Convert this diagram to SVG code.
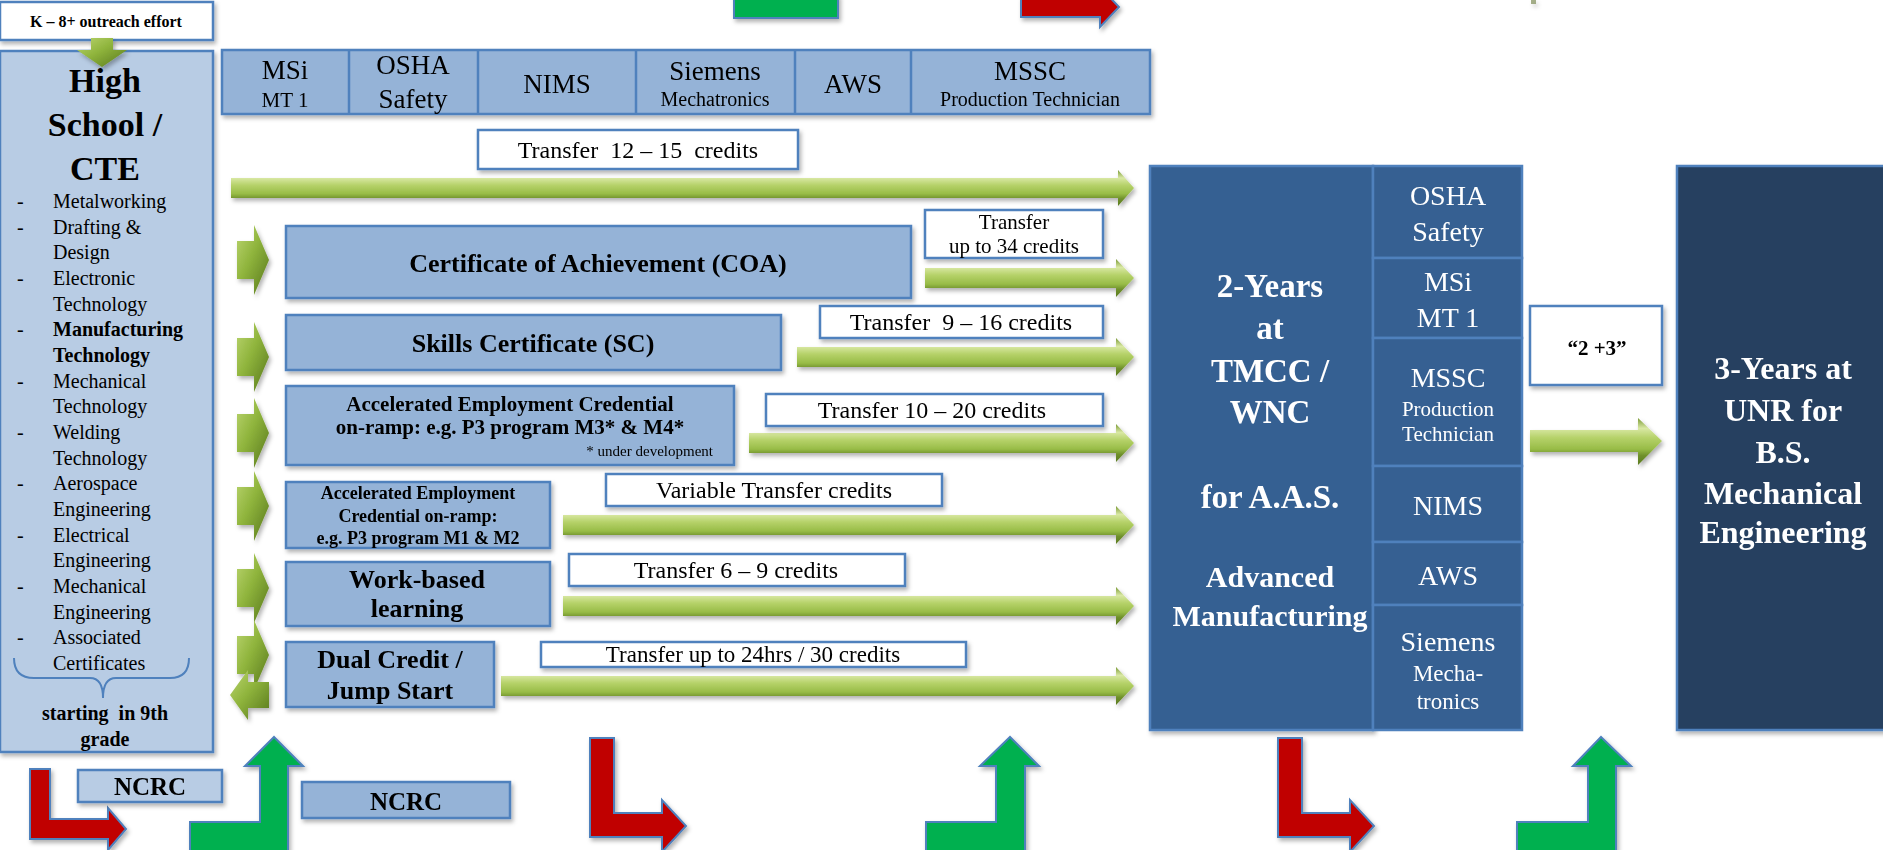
<svg xmlns="http://www.w3.org/2000/svg" width="1883" height="850" viewBox="0 0 1883 850">
<defs>
<style>
.serif{font-family:"Liberation Serif","Times New Roman",serif;}
.b{font-weight:bold;}
.box{stroke:#4f81bd;stroke-width:2.5;}
.lt{fill:#b8cce4;}
.md{fill:#95b3d7;}
.wh{fill:#ffffff;}
.dk{fill:#366092;}
.nv{fill:#254061;}
.red{fill:#c00000;stroke:#4f81bd;stroke-width:2;}
.grn{fill:#00b050;stroke:#4f81bd;stroke-width:2;}
.ga{fill:url(#gg);}
.gs{fill:url(#gs);}
text{fill:#000;}
.w{fill:#ffffff;}
</style>
<linearGradient id="gg" x1="0" y1="0" x2="0" y2="1">
<stop offset="0" stop-color="#7a9a35"/>
<stop offset="0.22" stop-color="#d9e8a4"/>
<stop offset="0.42" stop-color="#b6d26a"/>
<stop offset="0.66" stop-color="#98bc47"/>
<stop offset="0.8" stop-color="#6f902b"/>
<stop offset="1" stop-color="#5a7a20"/>
</linearGradient>
<linearGradient id="gs" x1="0" y1="0" x2="1" y2="1">
<stop offset="0" stop-color="#bcd672"/>
<stop offset="0.45" stop-color="#8fb43c"/>
<stop offset="1" stop-color="#56761c"/>
</linearGradient>
<filter id="sh" x="-10%" y="-10%" width="130%" height="140%">
<feDropShadow dx="2" dy="3" stdDeviation="2" flood-color="#000" flood-opacity="0.3"/>
</filter>
</defs>
<rect width="1883" height="850" fill="#ffffff"/>

<g id="k8" class="serif">
<rect class="box wh" x="0" y="2" width="213" height="38" filter="url(#sh)"/>
<text class="b" x="106" y="27" font-size="16" text-anchor="middle">K – 8+ outreach effort</text>
</g>

<g id="highschool" class="serif">
<rect class="box lt" x="0" y="51" width="213" height="701" filter="url(#sh)"/>
<text class="b" x="105" y="92" font-size="34" text-anchor="middle">High</text>
<text class="b" x="105" y="136" font-size="34" text-anchor="middle">School /</text>
<text class="b" x="105" y="180" font-size="34" text-anchor="middle">CTE</text>
<g font-size="20">
<text x="17" y="208">-</text><text x="53" y="208">Metalworking</text>
<text x="17" y="234">-</text><text x="53" y="234">Drafting &amp;</text>
<text x="53" y="259">Design</text>
<text x="17" y="285">-</text><text x="53" y="285">Electronic</text>
<text x="53" y="311">Technology</text>
<text x="17" y="336">-</text><text class="b" x="53" y="336">Manufacturing</text>
<text class="b" x="53" y="362">Technology</text>
<text x="17" y="388">-</text><text x="53" y="388">Mechanical</text>
<text x="53" y="413">Technology</text>
<text x="17" y="439">-</text><text x="53" y="439">Welding</text>
<text x="53" y="465">Technology</text>
<text x="17" y="490">-</text><text x="53" y="490">Aerospace</text>
<text x="53" y="516">Engineering</text>
<text x="17" y="542">-</text><text x="53" y="542">Electrical</text>
<text x="53" y="567">Engineering</text>
<text x="17" y="593">-</text><text x="53" y="593">Mechanical</text>
<text x="53" y="619">Engineering</text>
<text x="17" y="644">-</text><text x="53" y="644">Associated</text>
<text x="53" y="670">Certificates</text>
</g>
<path d="M14,658 Q14,678 34,678 L90,678 Q103,678 103,698 Q103,678 116,678 L170,678 Q189,678 189,658" fill="none" stroke="#4f81bd" stroke-width="2"/>
<text class="b" x="105" y="720" font-size="20" text-anchor="middle" xml:space="preserve">starting  in 9th</text>
<text class="b" x="105" y="746" font-size="20" text-anchor="middle">grade</text>
</g>

<g id="connectors" filter="url(#sh)">
<path class="gs" d="M91,38 L113,38 L113,50 L127,50 L102,67 L77,50 L91,50 Z"/>
<path class="ga" d="M231,178 L1118,178 L1118,170 L1134,188 L1118,206 L1118,198 L231,198 Z"/>
<path class="ga" d="M925,268 L1116,268 L1116,259 L1134,278 L1116,297 L1116,288 L925,288 Z"/>
<path class="ga" d="M797,347 L1116,347 L1116,338 L1134,357 L1116,376 L1116,367 L797,367 Z"/>
<path class="ga" d="M749,433 L1116,433 L1116,424 L1134,443 L1116,462 L1116,453 L749,453 Z"/>
<path class="ga" d="M563,515 L1116,515 L1116,506 L1134,525 L1116,544 L1116,535 L563,535 Z"/>
<path class="ga" d="M563,596 L1116,596 L1116,587 L1134,606 L1116,625 L1116,616 L563,616 Z"/>
<path class="ga" d="M501,676 L1116,676 L1116,667 L1134,686 L1116,705 L1116,696 L501,696 Z"/>
<path class="ga" d="M1530,430 L1638,430 L1638,418 L1662,441 L1638,465 L1638,452 L1530,452 Z"/>
<path class="gs" d="M237,241 L254,241 L254,225 L269,260 L254,295 L254,279 L237,279 Z"/>
<path class="gs" d="M237,338 L254,338 L254,322 L269,357 L254,392 L254,376 L237,376 Z"/>
<path class="gs" d="M237,414 L254,414 L254,398 L269,433 L254,468 L254,452 L237,452 Z"/>
<path class="gs" d="M237,487 L254,487 L254,471 L269,506 L254,541 L254,525 L237,525 Z"/>
<path class="gs" d="M237,569 L254,569 L254,553 L269,588 L254,623 L254,607 L237,607 Z"/>
<path class="gs" d="M237,636 L254,636 L254,620 L269,655 L254,690 L254,674 L237,674 Z"/>
<path class="gs" d="M269,682 L248,682 L248,670 L230,695 L248,720 L248,708 L269,708 Z"/>
<rect x="1531" y="0" width="5" height="4" fill="#6b7b3a" opacity="0.6"/>
</g>

<g id="bottom-arrows" filter="url(#sh)">
<path class="red" d="M30,769 L50,769 L50,819 L108,819 L108,808 L126,829 L108,850 L108,839 L30,839 Z"/>
<path class="grn" d="M190,822 L260,822 L260,766 L245,766 L274,737 L303,766 L288,766 L288,860 L190,860 Z"/>
<path class="red" d="M590,738 L614,738 L614,813 L662,813 L662,800 L686,826 L662,852 L662,837 L590,837 Z"/>
<path class="grn" d="M926,822 L996,822 L996,766 L980,766 L1010,737 L1039,766 L1025,766 L1025,860 L926,860 Z"/>
<path class="red" d="M1278,738 L1302,738 L1302,813 L1350,813 L1350,800 L1374,826 L1350,852 L1350,837 L1278,837 Z"/>
<path class="grn" d="M1517,822 L1588,822 L1588,766 L1573,766 L1601,737 L1631,766 L1616,766 L1616,860 L1517,860 Z"/>
<rect class="grn" x="734" y="-5" width="104" height="23"/>
<path class="red" d="M1021,-3 L1100,-3 L1100,-13 L1119,7 L1100,27 L1100,17 L1021,17 Z"/>
</g>

<g id="certbar" class="serif" font-size="27" text-anchor="middle">
<rect class="box md" x="222" y="50" width="928" height="64" filter="url(#sh)"/>
<line x1="349" y1="50" x2="349" y2="114" stroke="#4f81bd" stroke-width="2.5"/>
<line x1="478" y1="50" x2="478" y2="114" stroke="#4f81bd" stroke-width="2.5"/>
<line x1="636" y1="50" x2="636" y2="114" stroke="#4f81bd" stroke-width="2.5"/>
<line x1="795" y1="50" x2="795" y2="114" stroke="#4f81bd" stroke-width="2.5"/>
<line x1="911" y1="50" x2="911" y2="114" stroke="#4f81bd" stroke-width="2.5"/>
<text x="285" y="79">MSi</text>
<text x="285" y="107" font-size="21">MT 1</text>
<text x="413" y="74">OSHA</text>
<text x="413" y="108">Safety</text>
<text x="557" y="93">NIMS</text>
<text x="715" y="80">Siemens</text>
<text x="715" y="106" font-size="20">Mechatronics</text>
<text x="853" y="93">AWS</text>
<text x="1030" y="80">MSSC</text>
<text x="1030" y="106" font-size="20">Production Technician</text>
</g>

<g id="transfer-12-15" class="serif">
<rect class="box wh" x="478" y="130" width="320" height="39" filter="url(#sh)"/>
<text x="638" y="158" font-size="24" text-anchor="middle" xml:space="preserve">Transfer  12 – 15  credits</text>
</g>

<g id="coa" class="serif">
<rect class="box md" x="286" y="226" width="625" height="72" filter="url(#sh)"/>
<text class="b" x="598" y="272" font-size="26" text-anchor="middle">Certificate of Achievement (COA)</text>
</g>
<g id="transfer-34" class="serif">
<rect class="box wh" x="925" y="210" width="178" height="48" filter="url(#sh)"/>
<text x="1014" y="229" font-size="21" text-anchor="middle">Transfer</text>
<text x="1014" y="253" font-size="21" text-anchor="middle">up to 34 credits</text>
</g>

<g id="sc" class="serif">
<rect class="box md" x="286" y="315" width="495" height="55" filter="url(#sh)"/>
<text class="b" x="533" y="352" font-size="26" text-anchor="middle">Skills Certificate (SC)</text>
</g>
<g id="transfer-9-16" class="serif">
<rect class="box wh" x="820" y="306" width="283" height="32" filter="url(#sh)"/>
<text x="961" y="330" font-size="24" text-anchor="middle" xml:space="preserve">Transfer  9 – 16 credits</text>
</g>

<g id="aec-m3m4" class="serif">
<rect class="box md" x="286" y="386" width="448" height="79" filter="url(#sh)"/>
<text class="b" x="510" y="411" font-size="21" text-anchor="middle">Accelerated Employment Credential</text>
<text class="b" x="510" y="434" font-size="21" text-anchor="middle">on-ramp: e.g. P3 program M3* &amp; M4*</text>
<text x="713" y="456" font-size="15" text-anchor="end">* under development</text>
</g>
<g id="transfer-10-20" class="serif">
<rect class="box wh" x="766" y="394" width="337" height="32" filter="url(#sh)"/>
<text x="932" y="418" font-size="24" text-anchor="middle">Transfer 10 – 20 credits</text>
</g>

<g id="aec-m1m2" class="serif">
<rect class="box md" x="286" y="482" width="264" height="66" filter="url(#sh)"/>
<text class="b" x="418" y="499" font-size="18" text-anchor="middle">Accelerated Employment</text>
<text class="b" x="418" y="522" font-size="18" text-anchor="middle">Credential on-ramp:</text>
<text class="b" x="418" y="544" font-size="18" text-anchor="middle">e.g. P3 program M1 &amp; M2</text>
</g>
<g id="transfer-variable" class="serif">
<rect class="box wh" x="606" y="474" width="336" height="32" filter="url(#sh)"/>
<text x="774" y="498" font-size="24" text-anchor="middle">Variable Transfer credits</text>
</g>

<g id="work-based" class="serif">
<rect class="box md" x="286" y="562" width="264" height="64" filter="url(#sh)"/>
<text class="b" x="417" y="588" font-size="26" text-anchor="middle">Work-based</text>
<text class="b" x="417" y="617" font-size="26" text-anchor="middle">learning</text>
</g>
<g id="transfer-6-9" class="serif">
<rect class="box wh" x="569" y="554" width="336" height="32" filter="url(#sh)"/>
<text x="736" y="578" font-size="24" text-anchor="middle">Transfer 6 – 9 credits</text>
</g>

<g id="dual-credit" class="serif">
<rect class="box md" x="286" y="642" width="208" height="65" filter="url(#sh)"/>
<text class="b" x="390" y="668" font-size="26" text-anchor="middle">Dual Credit /</text>
<text class="b" x="390" y="699" font-size="26" text-anchor="middle">Jump Start</text>
</g>
<g id="transfer-24" class="serif">
<rect class="box wh" x="541" y="642" width="425" height="25" filter="url(#sh)"/>
<text x="753" y="662" font-size="23" text-anchor="middle">Transfer up to 24hrs / 30 credits</text>
</g>

<g id="ncrc-1" class="serif">
<rect class="box lt" x="78" y="770" width="144" height="32" filter="url(#sh)"/>
<text class="b" x="150" y="795" font-size="25" text-anchor="middle">NCRC</text>
</g>
<g id="ncrc-2" class="serif">
<rect class="box md" x="302" y="782" width="208" height="36" filter="url(#sh)"/>
<text class="b" x="406" y="810" font-size="25" text-anchor="middle">NCRC</text>
</g>

<g id="tmcc" class="serif b" text-anchor="middle">
<rect class="box dk" x="1150" y="166" width="223" height="564" filter="url(#sh)"/>
<text class="w" x="1270" y="297" font-size="33">2-Years</text>
<text class="w" x="1270" y="339" font-size="33">at</text>
<text class="w" x="1270" y="382" font-size="33">TMCC /</text>
<text class="w" x="1270" y="423" font-size="33">WNC</text>
<text class="w" x="1270" y="508" font-size="33">for A.A.S.</text>
<text class="w" x="1270" y="587" font-size="30">Advanced</text>
<text class="w" x="1270" y="626" font-size="30">Manufacturing</text>
</g>

<g id="tmcc-certs" class="serif" text-anchor="middle">
<rect class="box dk" x="1373" y="166" width="149" height="92"/>
<rect class="box dk" x="1373" y="258" width="149" height="80"/>
<rect class="box dk" x="1373" y="338" width="149" height="128"/>
<rect class="box dk" x="1373" y="466" width="149" height="76"/>
<rect class="box dk" x="1373" y="542" width="149" height="63"/>
<rect class="box dk" x="1373" y="605" width="149" height="125"/>
<text class="w" x="1448" y="205" font-size="28">OSHA</text>
<text class="w" x="1448" y="241" font-size="28">Safety</text>
<text class="w" x="1448" y="291" font-size="28">MSi</text>
<text class="w" x="1448" y="327" font-size="28">MT 1</text>
<text class="w" x="1448" y="387" font-size="28">MSSC</text>
<text class="w" x="1448" y="416" font-size="21">Production</text>
<text class="w" x="1448" y="441" font-size="21">Technician</text>
<text class="w" x="1448" y="515" font-size="28">NIMS</text>
<text class="w" x="1448" y="585" font-size="28">AWS</text>
<text class="w" x="1448" y="651" font-size="28">Siemens</text>
<text class="w" x="1448" y="681" font-size="23">Mecha-</text>
<text class="w" x="1448" y="709" font-size="23">tronics</text>
</g>

<g id="two-plus-three" class="serif">
<rect class="box wh" x="1530" y="306" width="132" height="79" filter="url(#sh)"/>
<text class="b" x="1597" y="355" font-size="21" text-anchor="middle">“2 +3”</text>
</g>

<g id="unr" class="serif b" text-anchor="middle">
<rect class="box nv" x="1677" y="166" width="210" height="564" filter="url(#sh)"/>
<text class="w" x="1783" y="379" font-size="32">3-Years at</text>
<text class="w" x="1783" y="421" font-size="32">UNR for</text>
<text class="w" x="1783" y="463" font-size="32">B.S.</text>
<text class="w" x="1783" y="504" font-size="32">Mechanical</text>
<text class="w" x="1783" y="543" font-size="32">Engineering</text>
</g>
</svg>
